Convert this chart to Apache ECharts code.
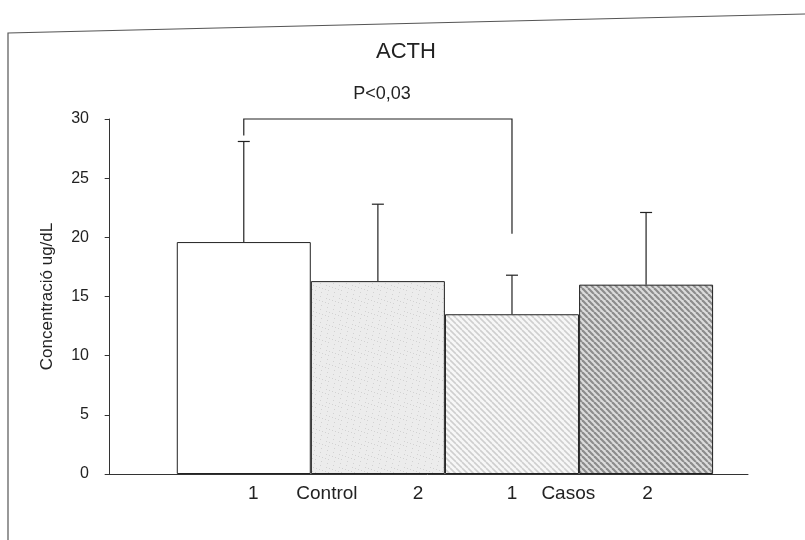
<!DOCTYPE html>
<html lang="ca">
<head>
<meta charset="UTF-8">
<style>
  html, body { height: 100%; margin: 0; background: #fff; }
  #chart { width: 805px; height: 540px; }
</style>
</head>
<body>
<div id="chart"></div>
<script src="https://cdn.jsdelivr.net/npm/echarts@6/dist/echarts.min.js"></script>
<script>
// data
var groups = ['1', '2', '1', '2'];          // Control 1, Control 2, Casos 1, Casos 2
var means = [19.6, 16.3, 13.5, 16.0];
var upper = [28.1, 22.8, 16.8, 22.1];        // top of the error bars
var yTicks = [0, 5, 10, 15, 20, 25, 30];
var bracketY = [28.6, 30, 30, 20.3];          // P<0,03 bracket, bar 1 -> bar 3
var bracketX = [1, 1, 3, 3];
var axisLabels = ['1', 'Control', '2', '1', 'Casos', '2'];
var axisLabelPos = [1.07, 1.62, 2.30, 3.0, 3.42, 4.01];

var FONT = 'Liberation Sans, Arial, sans-serif';
var INK = '#222';

function hatch(bg, fg, step, w, dots) {
    var c = document.createElement('canvas');
    c.width = step; c.height = step;
    var g = c.getContext('2d');
    g.fillStyle = bg;
    g.fillRect(0, 0, step, step);
    if (dots) {
        g.fillStyle = fg;
        for (var i = 0; i < dots; i++) {
            g.fillRect((i * 7) % step, (i * 11 + 3) % step, 1, 1);
        }
        return c;
    }
    g.strokeStyle = fg;
    g.lineWidth = w;
    // "\" stripes: top-left to bottom-right
    for (var k = -1; k <= 1; k++) {
        g.beginPath();
        g.moveTo(k * step, 0);
        g.lineTo(k * step + step, step);
        g.stroke();
    }
    return c;
}

var fills = [
    '#ffffff',
    { image: hatch('#ececec', '#d2d2d2', 13, 1, 9), repeat: 'repeat' },
    { image: hatch('#f7f7f7', '#cfcfcf', 6, 1.6), repeat: 'repeat' },
    { image: hatch('#dcdcdc', '#8c8c8c', 6, 2.2), repeat: 'repeat' }
];

var chart = echarts.init(document.getElementById('chart'));

chart.setOption({
    backgroundColor: '#fff',
    animation: false,
    title: {
        text: 'ACTH',
        left: 401, top: 36, textAlign: 'center',
        textStyle: { fontFamily: FONT, fontSize: 22, fontWeight: 'normal', color: INK }
    },
    grid: { left: 107, right: 57, top: 119, bottom: 66 },
    xAxis: {
        type: 'value', min: -0.02, max: 4.76,
        axisLine: { show: true, onZero: false, lineStyle: { color: '#333', width: 1 } },
        axisTick: { show: false },
        axisLabel: { show: false },
        splitLine: { show: false }
    },
    yAxis: {
        type: 'value', min: yTicks[0], max: yTicks[yTicks.length - 1], interval: 5,
        name: 'Concentració ug/dL',
        nameLocation: 'middle', nameGap: 51,
        nameTextStyle: { fontFamily: FONT, fontSize: 17, color: INK },
        axisLine: { show: true, lineStyle: { color: '#333', width: 1 } },
        axisTick: { show: true, length: 5, lineStyle: { color: '#333' } },
        axisLabel: { fontFamily: FONT, fontSize: 16, color: INK, margin: 18 },
        splitLine: { show: false }
    },
    series: [
        {
            type: 'bar',
            barWidth: 134,
            data: means.map(function (v, i) {
                return {
                    value: [i + 1, v],
                    itemStyle: { color: fills[i], borderColor: '#222', borderWidth: 1 }
                };
            }),
            z: 2
        },
        {
            type: 'custom',
            data: means.map(function (v, i) { return [i + 1, v, upper[i]]; }),
            renderItem: function (params, api) {
                var lo = api.coord([api.value(0), api.value(1)]);
                var hi = api.coord([api.value(0), api.value(2)]);
                var st = { stroke: '#222', lineWidth: 1.2 };
                return {
                    type: 'group',
                    children: [
                        { type: 'line', shape: { x1: lo[0], y1: lo[1], x2: hi[0], y2: hi[1] }, style: st },
                        { type: 'line', shape: { x1: hi[0] - 6, y1: hi[1], x2: hi[0] + 6, y2: hi[1] }, style: st }
                    ]
                };
            },
            z: 3
        },
        {
            type: 'custom',
            data: [0],
            renderItem: function (params, api) {
                var pts = bracketX.map(function (x, i) { return api.coord([x, bracketY[i]]); });
                return {
                    type: 'polyline',
                    shape: { points: pts },
                    style: { stroke: '#222', lineWidth: 1.2, fill: null }
                };
            },
            z: 3
        }
    ]
});

// group labels under the axis, and the p value above the bracket
var gfx = axisLabels.map(function (t, i) {
    var p = chart.convertToPixel({ gridIndex: 0 }, [axisLabelPos[i], 0]);
    return {
        type: 'text', x: p[0], y: p[1] + 20,
        style: { text: t, fontFamily: FONT, fontSize: 19, fill: INK, align: 'center', verticalAlign: 'middle' }
    };
});
var mid = chart.convertToPixel({ gridIndex: 0 }, [(bracketX[0] + bracketX[2]) / 2 + 0.03, bracketY[1]]);
gfx.push({
    type: 'text', x: mid[0], y: mid[1] - 25,
    style: { text: 'P<0,03', fontFamily: FONT, fontSize: 18, fill: INK, align: 'center', verticalAlign: 'middle' }
});
// scanned page frame
gfx.push({ type: 'polyline', shape: { points: [[8, 540], [8, 33], [805, 14]] },
    style: { stroke: '#555', lineWidth: 1.2, fill: null } });
chart.setOption({ graphic: gfx });
</script>
</body>
</html>
